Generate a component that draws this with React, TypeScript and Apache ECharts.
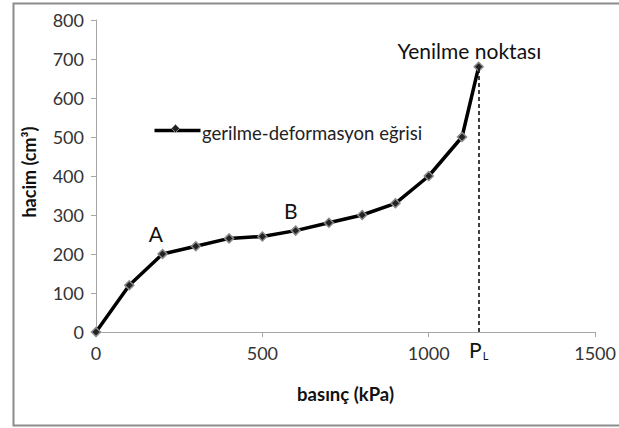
import React, { useEffect, useRef } from "react";
import * as echarts from "echarts";

const pressure = [0, 100, 200, 300, 400, 500, 600, 700, 800, 900, 1000, 1100, 1150];
const volume = [0, 120, 200, 220, 240, 245, 260, 280, 300, 330, 400, 500, 680];
const seriesName = "gerilme-deformasyon eğrisi";
const yieldPressure = 1150;
const yieldVolume = 680;
const annotations = [
  { text: "A", x: 180, y: 252 },
  { text: "B", x: 585, y: 312 },
  { text: "Yenilme noktası", x: 1122, y: 722 },
];

const FONT = "Lato, 'Open Sans', sans-serif";

export default function App() {
  const ref = useRef<HTMLDivElement>(null);
  useEffect(() => {
    if (!ref.current) return;
    const chart = echarts.init(ref.current, null, { renderer: "svg" });
    const data = pressure.map((p, i) => [p, volume[i]]);
    chart.setOption({
      animation: false,
      backgroundColor: "#fff",
      textStyle: { fontFamily: FONT },
      grid: { left: 96, top: 20, right: 21, bottom: 96, containLabel: false },
      legend: {
        left: 152,
        top: 118,
        itemWidth: 46,
        itemHeight: 10,
        itemGap: 0,
        textStyle: { fontSize: 18.5, color: "#222", fontFamily: FONT, padding: [0, 0, 0, -6] },
        data: [{ name: seriesName, icon: "none" }],
        selectedMode: false,
      },
      xAxis: {
        type: "value",
        min: 0,
        max: 1500,
        interval: 500,
        name: "basınç (kPa)",
        nameLocation: "middle",
        nameGap: 52,
        nameTextStyle: { fontSize: 18.5, fontWeight: "bold", color: "#111", fontFamily: FONT },
        axisLine: { show: true, lineStyle: { color: "#a6a6a6", width: 1 } },
        axisTick: { show: true, length: 5, lineStyle: { color: "#a6a6a6" } },
        axisLabel: {
          fontSize: 18,
          color: "#333",
          margin: 12,
          fontFamily: FONT,
          formatter: (v: number) => String(v),
        },
        splitLine: { show: false },
      },
      yAxis: {
        type: "value",
        min: 0,
        max: 800,
        interval: 100,
        name: "hacim (cm³)",
        nameLocation: "middle",
        nameGap: 58,
        nameRotate: 90,
        nameTextStyle: { fontSize: 18, fontWeight: "bold", color: "#111", fontFamily: FONT, padding: [0, 0, 0, 8] },
        axisLine: { show: true, lineStyle: { color: "#a6a6a6", width: 1 } },
        axisTick: { show: true, length: 5, lineStyle: { color: "#a6a6a6" } },
        axisLabel: {
          fontSize: 18,
          color: "#333",
          margin: 12,
          fontFamily: FONT,
          formatter: (v: number) => String(v),
        },
        splitLine: { show: false },
      },
      series: [
        {
          name: seriesName,
          type: "line",
          data,
          symbol: "diamond",
          symbolSize: 9,
          lineStyle: { color: "#000", width: 3.5 },
          itemStyle: { color: "#222", borderColor: "#8a8a8a", borderWidth: 1.5 },
          clip: false,
          z: 3,
          markLine: {
            silent: true,
            symbol: ["none", "none"],
            label: {
              show: true,
              position: "start",
              distance: 6,
              formatter: "{big|P}{sub|L}",
              rich: {
                big: { fontSize: 21, color: "#111", fontFamily: FONT },
                sub: { fontSize: 11, color: "#111", fontFamily: FONT, padding: [12, 0, 0, 1] },
              },
            },
            lineStyle: { color: "#000", type: [4, 3], width: 1.5 },
            data: [[{ coord: [yieldPressure, 0] }, { coord: [yieldPressure, yieldVolume] }]],
          },
          markPoint: {
            silent: true,
            symbol: "circle",
            symbolSize: 0,
            label: {
              show: true,
              position: "inside",
              fontSize: 21,
              color: "#111",
              fontFamily: FONT,
            },
            data: annotations.map((a) => ({
              coord: [a.x, a.y],
              value: a.text,
              label: { formatter: a.text },
            })),
          },
        },
      ],
      graphic: [
        {
          type: "rect",
          left: 11,
          top: 1,
          shape: { x: 0, y: 0, width: 608, height: 422 },
          style: { fill: "none", stroke: "#8c8c8c", lineWidth: 2 },
          silent: true,
          z: -1,
        },
        {
          type: "line",
          left: 152,
          top: 128,
          shape: { x1: 0, y1: 0, x2: 46, y2: 0 },
          style: { stroke: "#000", lineWidth: 3.5 },
          silent: true,
        },
        {
          type: "polygon",
          left: 171,
          top: 124,
          shape: { points: [[4, 0], [8, 4], [4, 8], [0, 4]] },
          style: { fill: "#222", stroke: "#8a8a8a", lineWidth: 1 },
          silent: true,
        },
      ],
    });
    return () => chart.dispose();
  }, []);
  return (
    <div
      ref={ref}
      style={{ position: "fixed", left: 0, top: 0, width: 619, height: 428, background: "#fff" }}
    />
  );
}
